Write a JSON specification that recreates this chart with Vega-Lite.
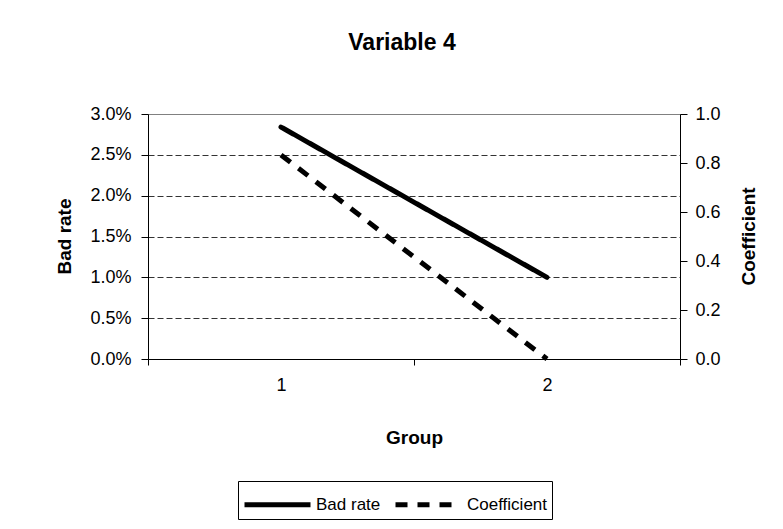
{
  "$schema": "https://vega.github.io/schema/vega-lite/v6.json",
  "width": 532,
  "height": 245,
  "autosize": {"type": "none"},
  "padding": {"left": 148, "top": 114, "right": 103, "bottom": 170},
  "background": "white",
  "title": {"text": "Variable 4", "font": "Liberation Sans", "fontSize": 23, "fontWeight": "bold", "color": "black", "anchor": "middle", "dx": -12, "offset": 50},
  "data": {"values": [
    {"group": "1", "bad_rate": 0.0284, "coefficient": 0.833},
    {"group": "2", "bad_rate": 0.010, "coefficient": 0.0}
  ]},
  "encoding": {
    "x": {"field": "group", "type": "ordinal", "scale": {"type": "band", "paddingInner": 0, "paddingOuter": 0}, "bandPosition": 0.5,
      "axis": {"title": "Group", "labelAngle": 0, "tickBand": "extent", "tickSize": 6, "labelPadding": 11, "titlePadding": 34, "grid": false}}
  },
  "layer": [
    {
      "mark": {"type": "line", "color": "black", "strokeWidth": 5, "strokeCap": "round"},
      "encoding": {
        "y": {"field": "bad_rate", "type": "quantitative", "scale": {"domain": [0, 0.03], "nice": false},
          "axis": {"orient": "left", "title": "Bad rate", "format": ".1%", "values": [0, 0.005, 0.01, 0.015, 0.02, 0.025, 0.03], "tickSize": 7, "labelPadding": 10,
            "titleX": -84, "titleY": 122, "titleAlign": "center", "titleBaseline": "middle", "titleAngle": 270,
            "grid": true, "gridDash": [6, 3], "gridColor": "#333333", "gridWidth": 1,
            "gridOpacity": {"condition": {"test": "datum.value >= 0.03 || datum.value <= 0", "value": 0}, "value": 1}}},
        "strokeDash": {"datum": "Bad rate", "type": "nominal",
          "scale": {"domain": ["Bad rate", "Coefficient"], "range": [[1, 0], [12, 10]]},
          "legend": {"orient": "none", "legendX": 90, "legendY": 367, "direction": "horizontal", "title": null,
            "strokeColor": "black", "fillColor": "white", "padding": 4,
            "symbolType": "M-1,0H2.882", "symbolSize": 1156, "symbolStrokeWidth": 5, "symbolStrokeColor": "black",
            "labelFont": "Liberation Sans", "labelFontSize": 17, "labelColor": "black", "columnPadding": 4, "labelOffset": 35}}
      }
    },
    {
      "mark": {"type": "line", "color": "black", "strokeWidth": 5, "strokeCap": "butt"},
      "encoding": {
        "y": {"field": "coefficient", "type": "quantitative", "scale": {"domain": [0, 1], "nice": false},
          "axis": {"orient": "right", "title": "Coefficient", "format": ".1f", "values": [0, 0.2, 0.4, 0.6, 0.8, 1.0], "tickSize": 7, "labelPadding": 8,
            "titleX": 68, "titleY": 122, "titleAlign": "center", "titleBaseline": "middle", "titleAngle": 270, "grid": false}},
        "strokeDash": {"datum": "Coefficient", "type": "nominal"}
      }
    }
  ],
  "resolve": {"scale": {"y": "independent"}},
  "config": {
    "font": "Liberation Sans",
    "axis": {"labelFont": "Liberation Sans", "labelFontSize": 18, "labelColor": "black", "titleFont": "Liberation Sans", "titleFontSize": 19, "titleFontWeight": "bold", "titleColor": "black", "domainColor": "black", "tickColor": "black"},
    "view": {"stroke": "#808080"}
  }
}
